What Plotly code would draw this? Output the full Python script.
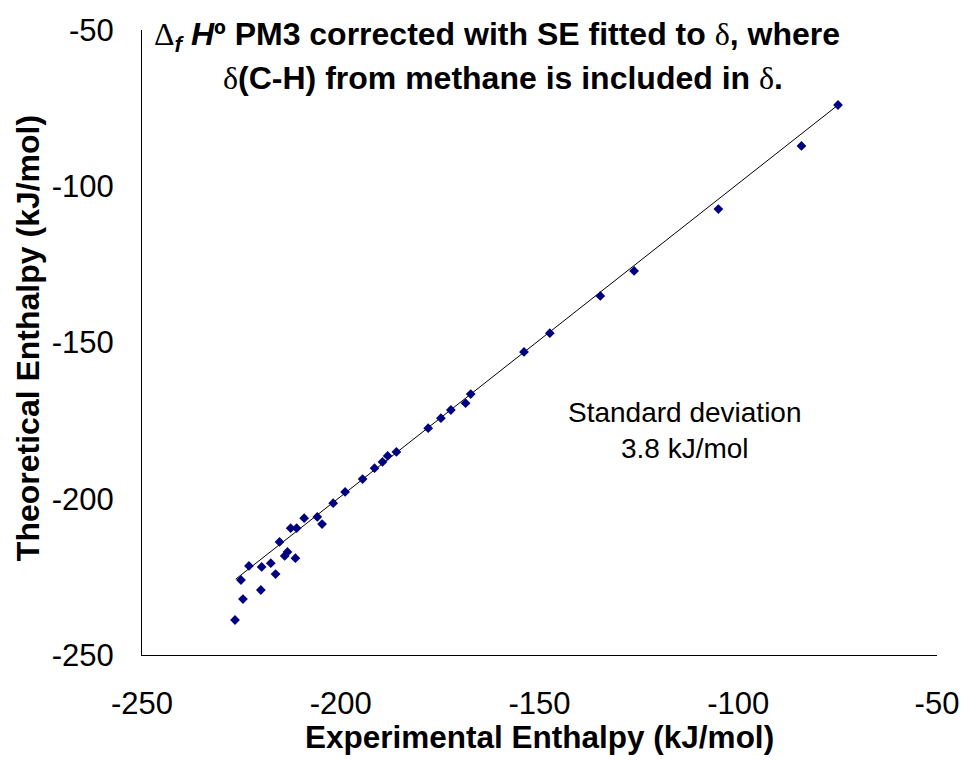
import plotly.graph_objects as go

experimental = [-74.9, -84.1, -105.0, -126.2, -134.7, -147.4, -153.9, -167.3, -168.6,
                -172.3, -174.8, -178.0, -186.0, -188.2, -189.5, -191.5, -194.5, -198.9,
                -201.9, -205.9, -209.2, -204.7, -212.6, -211.1, -215.4, -213.4, -214.1,
                -211.4, -223.1, -219.9, -217.6, -216.4, -225.1, -220.1, -224.6, -226.6]
theoretical = [-74.0, -87.1, -107.3, -127.1, -135.1, -147.0, -153.0, -166.5, -169.4,
               -171.6, -174.2, -177.4, -185.0, -186.3, -188.2, -190.2, -193.7, -197.8,
               -201.4, -205.8, -206.2, -208.1, -209.4, -209.4, -213.8, -217.0, -218.3,
               -219.0, -221.5, -221.8, -220.6, -224.1, -226.0, -229.2, -232.1, -238.8]

trend_x = [-226.4, -74.9]
trend_y = [-225.7, -74.0]

tick_vals = [-250, -200, -150, -100, -50]
tick_text = ["-250", "-200", "-150", "-100", "-50"]

# plot area in pixels
L, R, T, B = 142, 945, 30, 655
W, H = 971, 760


def px(x):
    return (x - L) / (R - L)


def py(y):
    return (B - y) / (B - T)


fig = go.Figure()
fig.add_trace(go.Scatter(x=trend_x, y=trend_y, mode="lines",
                         line=dict(color="black", width=1), showlegend=False,
                         hoverinfo="skip"))
fig.add_trace(go.Scatter(x=experimental, y=theoretical, mode="markers",
                         marker=dict(symbol="diamond", size=7.5, color="#000080",
                                     line=dict(width=0)),
                         showlegend=False))

axis_common = dict(range=[-250, -50], tickvals=tick_vals, ticktext=tick_text,
                   showgrid=False, zeroline=False, showline=True, linecolor="black",
                   linewidth=1, ticks="", tickfont=dict(size=31))

fig.update_layout(
    width=W, height=H,
    margin=dict(l=L, r=W - R, t=T, b=H - B),
    paper_bgcolor="white", plot_bgcolor="white",
    font=dict(family="Liberation Sans, Arial, sans-serif", color="black"),
    xaxis=dict(**axis_common, ticklabelstandoff=21),
    yaxis=dict(**axis_common, ticklabelstandoff=21),
)

sym = '<span style="font-family:Liberation Serif;font-weight:normal">{}</span>'
title1 = ("<b>" + sym.format("Δ") + "<sub><i>f</i></sub> <i>H</i>º PM3 corrected with SE fitted to "
          + sym.format("δ") + ", where</b>")
title2 = "<b>" + sym.format("δ") + "(C-H) from methane is included in " + sym.format("δ") + ".</b>"

fig.add_annotation(xref="paper", yref="paper", x=px(501), y=py(37), showarrow=False,
                   text=title1, font=dict(size=32), xanchor="center", yanchor="middle")
fig.add_annotation(xref="paper", yref="paper", x=px(507), y=py(78), showarrow=False,
                   text=title2, font=dict(size=32), xanchor="center", yanchor="middle")
fig.add_annotation(xref="paper", yref="paper", x=px(690), y=py(430), showarrow=False,
                   text="Standard deviation<br>3.8 kJ/mol", align="center",
                   font=dict(size=28), xanchor="center", yanchor="middle")
fig.add_annotation(xref="paper", yref="paper", x=px(543), y=py(737), showarrow=False,
                   text="<b>Experimental Enthalpy (kJ/mol)</b>",
                   font=dict(size=31.5), xanchor="center", yanchor="middle")
fig.add_annotation(xref="paper", yref="paper", x=px(27), y=py(338), showarrow=False,
                   text="<b>Theoretical Enthalpy (kJ/mol)</b>", textangle=-90,
                   font=dict(size=32), xanchor="center", yanchor="middle")

fig.write_html("out.html")
